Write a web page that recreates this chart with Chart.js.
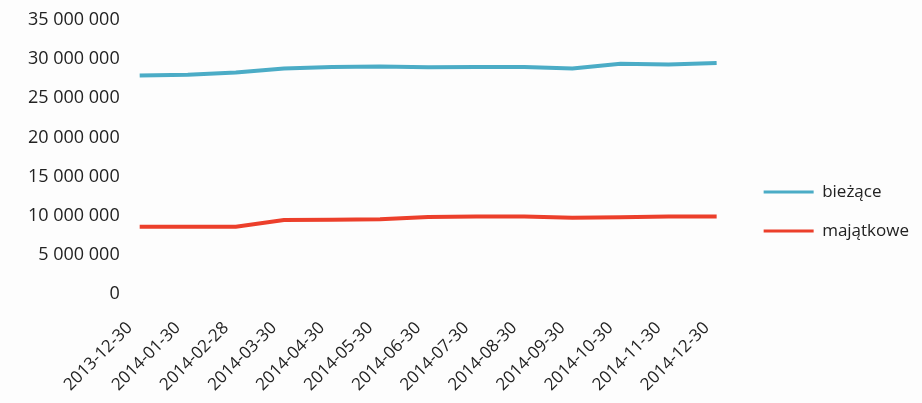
<!DOCTYPE html>
<html>
<head>
<meta charset="utf-8">
<script src="https://cdn.jsdelivr.net/npm/chart.js@4"></script>
<style>
  html, body { margin: 0; padding: 0; background: #fdfdfd; }
  #wrap { width: 922px; height: 403px; }
</style>
</head>
<body>
<div id="wrap"><canvas id="chart_canvas"></canvas></div>
<script>
const dates = ["2013-12-30", "2014-01-30", "2014-02-28", "2014-03-30", "2014-04-30", "2014-05-30",
  "2014-06-30", "2014-07-30", "2014-08-30", "2014-09-30", "2014-10-30", "2014-11-30", "2014-12-30"];
const biezace = [27900000, 28000000, 28300000, 28800000, 29000000, 29050000,
  28950000, 29000000, 29000000, 28800000, 29400000, 29300000, 29500000];
const majatkowe = [8600000, 8600000, 8600000, 9450000, 9500000, 9550000,
  9850000, 9900000, 9900000, 9750000, 9800000, 9900000, 9900000];
const yTicks = { min: 0, max: 35000000, step: 5000000 };

const font = { family: "'Open Sans', 'Noto Sans', sans-serif", size: 17 };
const yFont = { family: "'Open Sans', 'Noto Sans', sans-serif", size: 18 };
const legendGap = 28;   // extra room between plot and legend

function spaced(v) {
  return String(v).replace(/\B(?=(\d{3})+(?!\d))/g, " ");
}

// push the legend back to the right edge after padding made room for it
const shiftLegend = {
  id: "shiftLegend",
  afterLayout(chart) {
    chart.legend.left += legendGap - 3;
    chart.legend.right += legendGap - 3;
  }
};

const context = document.getElementById("chart_canvas").getContext("2d");
new Chart(context, {
  type: "line",
  data: {
    labels: dates,
    datasets: [{
      label:           "bieżące",
      data:            biezace,
      borderColor:     "#4bacc6",
      backgroundColor: "#4bacc6",
      borderWidth:     4,
      pointRadius:     0,
      tension:         0
    }, {
      label:           "majątkowe",
      data:            majatkowe,
      borderColor:     "#ec3f2b",
      backgroundColor: "#ec3f2b",
      borderWidth:     4,
      pointRadius:     0,
      tension:         0
    }]
  },
  plugins: [shiftLegend],
  options: {
    responsive: true,
    maintainAspectRatio: false,
    animation: false,
    layout: { padding: { top: 20, right: legendGap, left: 8, bottom: 0 } },
    plugins: {
      tooltip: { enabled: false },
      legend: {
        position: "right",
        labels: {
          font: font,
          color: "#222",
          boxWidth: 50,
          boxHeight: 3,
          padding: 22,
          generateLabels(chart) {
            const items = Chart.defaults.plugins.legend.labels.generateLabels(chart);
            items.forEach(it => { it.lineWidth = 0; });
            return items;
          }
        }
      }
    },
    scales: {
      x: {
        offset: false,
        grid: { display: false, drawTicks: false },
        border: { display: false },
        ticks: { font: font, color: "#222", minRotation: 45, maxRotation: 45, padding: 24, labelOffset: -10 },
        afterFit(scale) { scale.height = 109; }
      },
      y: {
        min: yTicks.min,
        max: yTicks.max,
        grid: { display: false, drawTicks: false },
        border: { display: false },
        ticks: { font: yFont, color: "#222", stepSize: yTicks.step, padding: 20, callback: v => spaced(v) },
        afterFit(scale) { scale.paddingTop = 0; scale.paddingBottom = 0; }
      }
    }
  }
});
</script>
</body>
</html>
